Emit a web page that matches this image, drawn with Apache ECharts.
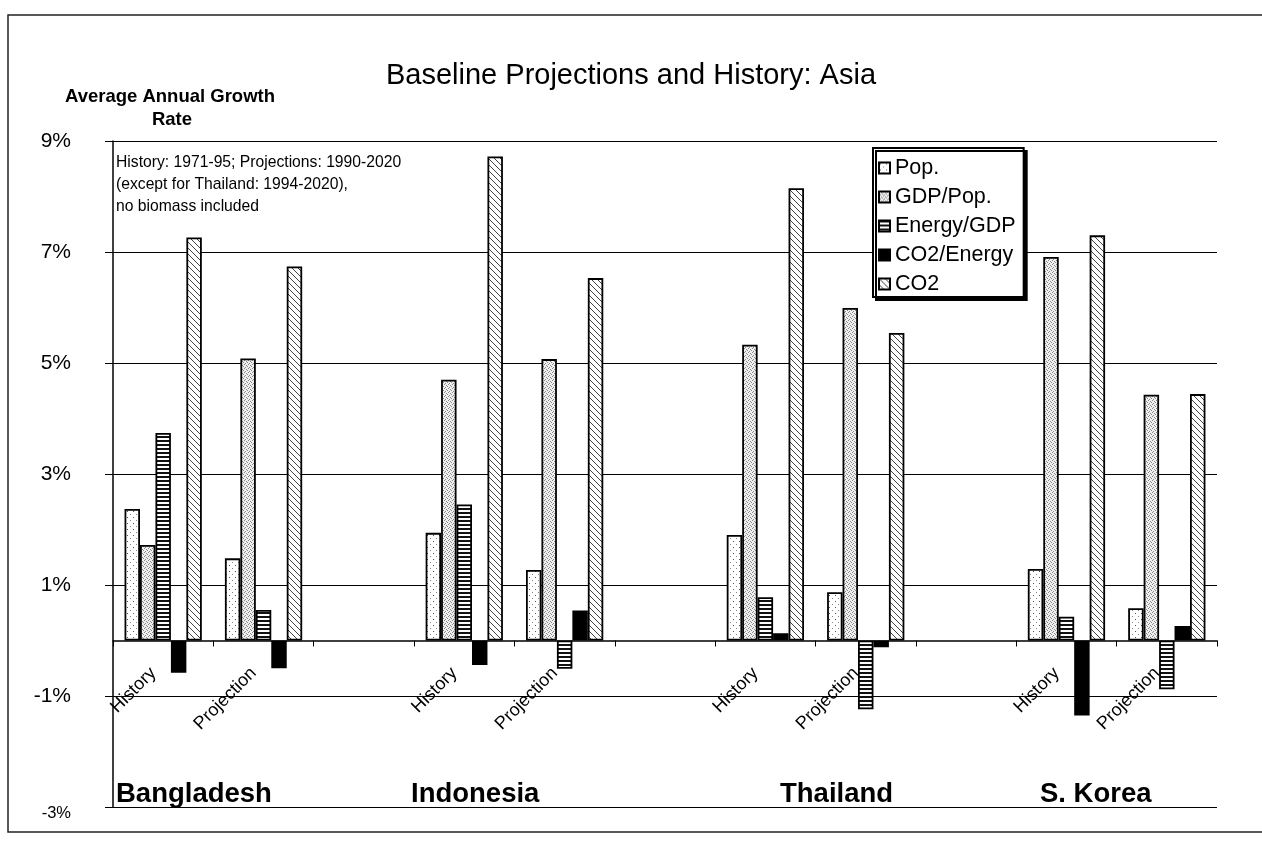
<!DOCTYPE html>
<html>
<head>
<meta charset="utf-8">
<script src="https://cdn.jsdelivr.net/npm/echarts@6/dist/echarts.min.js"></script>
<style>html,body{margin:0;padding:0;background:#fff;}#c{width:1262px;height:849px;}</style>
</head>
<body>
<div id="c"></div>
<script>
// ---- data ----
const categories = ['History','Projection','','History','Projection','','History','Projection','','History','Projection'];
const countries = ['Bangladesh','Indonesia','Thailand','S. Korea'];
const seriesNames = ['Pop.','GDP/Pop.','Energy/GDP','CO2/Energy','CO2'];
const popValues       = [2.37, 1.48, null, 1.94, 1.27, null, 1.90, 0.87, null, 1.29, 0.58];
const gdpPopValues    = [1.72, 5.08, null, 4.70, 5.07, null, 5.33, 5.99, null, 6.91, 4.43];
const energyGdpValues = [3.74, 0.55, null, 2.45, -0.51, null, 0.78, -1.24, null, 0.43, -0.88];
const co2EnergyValues = [-0.58, -0.50, null, -0.44, 0.54, null, 0.13, -0.12, null, -1.35, 0.26];
const co2Values       = [7.26, 6.74, null, 8.72, 6.53, null, 8.15, 5.54, null, 7.30, 4.44];
const yTicks = [-3, -1, 1, 3, 5, 7, 9];
const titleText = 'Baseline Projections and History: Asia';
const yAxisTitle = ['Average Annual Growth', 'Rate'];
const noteLines = ['History: 1971-95; Projections: 1990-2020', '(except for Thailand: 1994-2020),', 'no biomass included'];

// ---- patterns ----
function makePattern(w, h, draw) {
  const c = document.createElement('canvas');
  c.width = w; c.height = h;
  const g = c.getContext('2d');
  draw(g, w, h);
  return { image: c, repeat: 'repeat' };
}
const popPattern = makePattern(6, 6, function (g) {
  g.fillStyle = '#fff'; g.fillRect(0, 0, 6, 6);
  g.fillStyle = '#555'; g.fillRect(1, 1, 1, 1);
  g.fillStyle = '#888'; g.fillRect(4, 4, 1, 1);
});
const gdpPattern = makePattern(4, 4, function (g) {
  g.fillStyle = '#f0f0f0'; g.fillRect(0, 0, 4, 4);
  g.fillStyle = '#888';
  g.fillRect(0, 0, 1, 1); g.fillRect(2, 1, 1, 1); g.fillRect(1, 3, 1, 1); g.fillRect(3, 2, 1, 1);
});
const energyPattern = makePattern(4, 4, function (g) {
  g.fillStyle = '#fff'; g.fillRect(0, 0, 4, 4);
  g.fillStyle = '#111'; g.fillRect(0, 0, 4, 2);
});
const co2Pattern = makePattern(6, 6, function (g) {
  g.fillStyle = '#fff'; g.fillRect(0, 0, 6, 6);
  g.strokeStyle = '#444'; g.lineWidth = 1;
  g.beginPath(); g.moveTo(-1, -1); g.lineTo(7, 7); g.stroke();
});
const fills = [popPattern, gdpPattern, energyPattern, '#000', co2Pattern];
const valueArrays = [popValues, gdpPopValues, energyGdpValues, co2EnergyValues, co2Values];

const FONT = 'Liberation Sans, Arial, sans-serif';
const chart = echarts.init(document.getElementById('c'), null, { renderer: 'canvas' });

const series = seriesNames.map(function (name, i) {
  return {
    name: name,
    type: 'bar',
    data: valueArrays[i],
    barGap: '0%',
    barCategoryGap: '23%',
    itemStyle: { color: fills[i], borderColor: '#000', borderWidth: 1.8 }
  };
});

const countryX = [116, 411, 780, 1040];
const graphics = [
  { type: 'rect', silent: true, z: -10, shape: { x: 8, y: 15, width: 1300, height: 817 },
    style: { fill: 'none', stroke: '#222', lineWidth: 1.5 } },
  { type: 'text', x: 170, y: 97, style: { text: yAxisTitle[0], align: 'center', verticalAlign: 'middle', font: 'bold 18.5px ' + FONT, fill: '#000' } },
  { type: 'text', x: 172, y: 120, style: { text: yAxisTitle[1], align: 'center', verticalAlign: 'middle', font: 'bold 18.5px ' + FONT, fill: '#000' } }
];
noteLines.forEach(function (t, i) {
  graphics.push({ type: 'text', x: 116, y: 163 + i * 22, style: { text: t, align: 'left', verticalAlign: 'middle', font: '15.7px ' + FONT, fill: '#000' } });
});
countries.forEach(function (t, i) {
  graphics.push({ type: 'text', x: countryX[i], y: 808, style: { text: t, align: 'left', verticalAlign: 'bottom', font: 'bold 27.5px ' + FONT, fill: '#000' } });
});

chart.setOption({
  animation: false,
  backgroundColor: '#fff',
  title: {
    text: titleText, left: 'center', top: 56,
    textStyle: { fontFamily: FONT, fontSize: 29, fontWeight: 'normal', color: '#000' }
  },
  legend: {
    orient: 'vertical', left: 873, top: 148,
    data: seriesNames,
    icon: 'rect',
    itemWidth: 11, itemHeight: 11, itemGap: 7,
    padding: [9, 8, 2, 5],
    backgroundColor: '#fff', borderColor: '#000', borderWidth: 2,
    shadowColor: '#000', shadowOffsetX: 3, shadowOffsetY: 3, shadowBlur: 0,
    textStyle: { fontFamily: FONT, fontSize: 21.5, color: '#000', padding: [0, 0, 0, 0] }
  },
  grid: { left: 113, right: 45, top: 141, bottom: 42, containLabel: false, outerBoundsMode: 'none' },
  xAxis: {
    type: 'category', data: categories,
    axisLine: { onZero: false, lineStyle: { color: '#000', width: 1.5 } },
    axisTick: { show: true, length: 6, interval: 0, lineStyle: { color: '#000' } },
    axisLabel: { interval: 0, rotate: 45, margin: 20, padding: [0, 14, 0, 0], fontFamily: FONT, fontSize: 18, color: '#000' },
    splitLine: { show: false }
  },
  yAxis: {
    type: 'value', min: -3, max: 9, interval: 2,
    axisLine: { show: true, lineStyle: { color: '#000', width: 1.5 } },
    axisTick: { show: true, length: 8, lineStyle: { color: '#000' } },
    axisLabel: {
      margin: 42, fontFamily: FONT, fontSize: 21, color: '#000',
      formatter: function (v) { return v === -3 ? '{s|' + v + '%}' : v + '%'; },
      rich: { s: { fontFamily: FONT, fontSize: 16.5, color: '#000', padding: [12, 0, 0, 0] } }
    },
    splitLine: { show: true, lineStyle: { color: '#000', width: 1 } }
  },
  graphic: graphics,
  series: series
});

// move the category axis (line, ticks, labels) onto the zero value
const yZero = chart.convertToPixel({ yAxisIndex: 0 }, 0);
const yBottom = chart.convertToPixel({ yAxisIndex: 0 }, yTicks[0]);
chart.setOption({ xAxis: { offset: yZero - yBottom } });
</script>
</body>
</html>
